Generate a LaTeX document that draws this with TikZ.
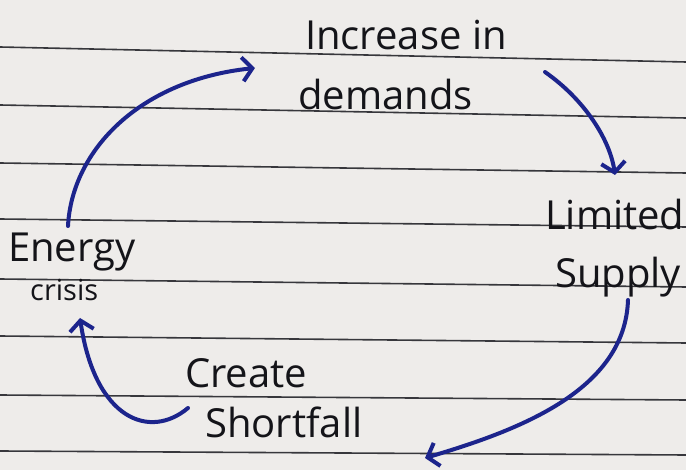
\documentclass[tikz,border=0pt]{standalone}
\usepackage{fontspec}
\setmainfont{Open Sans}
\usetikzlibrary{arrows.meta}
\definecolor{paper}{RGB}{238,236,234}
\definecolor{rule}{RGB}{55,55,60}
\definecolor{ink}{RGB}{20,20,25}
\definecolor{pen}{RGB}{28,36,140}
\tikzset{
  hand/.style={inner sep=0pt, anchor=base west, text=ink, font=\fontsize{40}{44}\selectfont},
  small/.style={hand, font=\fontsize{29}{32}\selectfont},
  ruleline/.style={draw=rule, line width=1.6pt},
  flow/.style={draw=pen, line width=4pt, line cap=round,
    -{Straight Barb[length=10pt,width=24pt,line width=4pt]}}
}
\begin{document}
\begin{tikzpicture}[x=1pt,y=-1pt]
\fill[paper] (0,0) rectangle (686,470);
\useasboundingbox (0,0) rectangle (686,470);
% ruled lines
\foreach \a/\b in {47/62,105/118,163/173,219/227,279/287,336/343,395/400,451/455}
  \draw[ruleline] (0,\a) -- (686,\b);
% texts
\node[hand] (incr) at (305,50) {Increase in};
\node[hand] (dem) at (298,110) {demands};
\node[hand] (lim) at (545,230) {Limited};
\node[hand] (sup) at (555,288) {Supply};
\node[hand] (cre) at (185,388) {Create};
\node[hand] (sho) at (205,438) {Shortfall};
\node[hand] (ene) at (8,262) {Energy};
\node[small] (cri) at (30,301) {crisis};
% connector ends
\coordinate (a1s) at (68,226);
\coordinate (a1e) at (255,68);
\coordinate (a2s) at (545,72);
\coordinate (a2e) at (615,175);
\coordinate (a3s) at (628,300);
\coordinate (a3e) at (425,458);
\coordinate (a4s) at (188,408);
\coordinate (a4e) at (80,318);
\draw[flow] (a1s) .. controls (72,150) and (140,80) .. (a1e);
\draw[flow] (a2s) .. controls (585,100) and (610,140) .. (a2e);
\draw[flow] (a3s) .. controls (625,390) and (520,430) .. (a3e);
\draw[flow] (a4s) .. controls (150,440) and (95,420) .. (a4e);
\end{tikzpicture}
\end{document}
